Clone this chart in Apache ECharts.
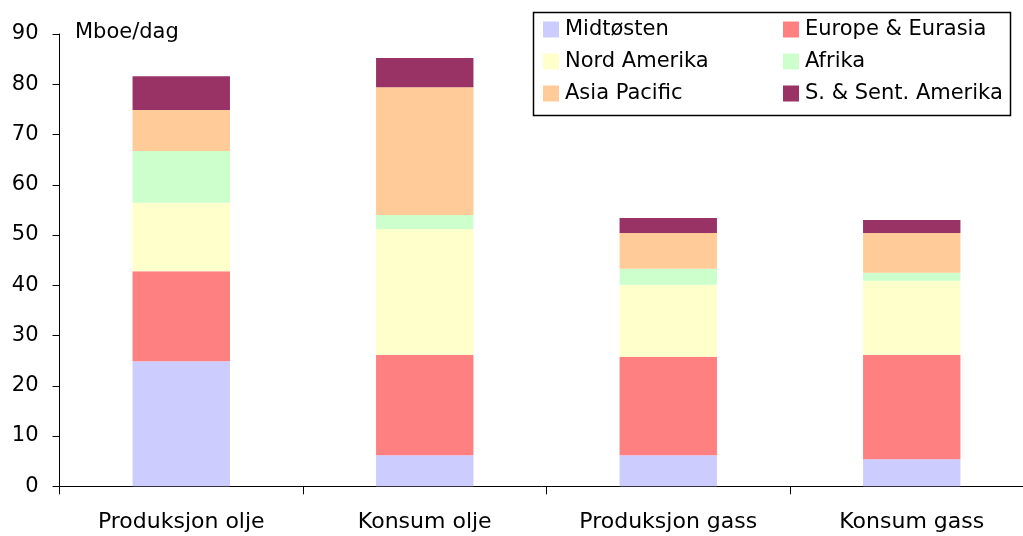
<!DOCTYPE html>
<html>
<head>
<meta charset="utf-8">
<script src="https://cdn.jsdelivr.net/npm/echarts@6/dist/echarts.min.js"></script>
<style>
  html, body { margin: 0; padding: 0; background: #fff; }
  #chart { width: 1023px; height: 536px; }
</style>
</head>
<body>
<div id="chart"></div>
<script>
// Categories on the x axis
const categories = ['Produksjon olje', 'Konsum olje', 'Produksjon gass', 'Konsum gass'];

// Regional contributions, Mboe/dag, in stacking order (bottom to top)
const midtosten    = [24.9, 6.2, 6.2, 5.4];
const europe       = [17.9, 20.0, 19.6, 20.8];
const nordAmerika  = [13.6, 25.0, 14.3, 14.7];
const afrika       = [10.3, 2.8, 3.2, 1.6];
const asiaPacific  = [8.2, 25.4, 7.1, 7.9];
const sorAmerika   = [6.7, 5.8, 3.0, 2.6];

const seriesNames  = ['Midtøsten', 'Europe & Eurasia', 'Nord Amerika', 'Afrika', 'Asia Pacific', 'S. & Sent. Amerika'];
const seriesData   = [midtosten, europe, nordAmerika, afrika, asiaPacific, sorAmerika];
const seriesColors = ['#CCCCFF', '#FF8080', '#FFFFCC', '#CCFFCC', '#FFCC99', '#993366'];

const yTicks = { min: 0, max: 90, interval: 10 };
const unitLabel = 'Mboe/dag';

const FONT = '"DejaVu Sans", Arial, sans-serif';

const chart = echarts.init(document.getElementById('chart'), null, { renderer: 'canvas' });

const legendCommon = {
  orient: 'vertical',
  top: 19,
  padding: 0,
  itemWidth: 16,
  itemHeight: 16,
  itemGap: 11,
  icon: 'rect',
  selectedMode: false,
  textStyle: { fontFamily: FONT, fontSize: 21, color: '#000', padding: [0, 0, 0, 1] }
};

chart.setOption({
  animation: false,
  backgroundColor: '#fff',
  grid: {
    left: 59.5, width: 974, top: 34, bottom: 49.7,
    containLabel: false, outerBoundsMode: 'none'
  },
  legend: [
    Object.assign({}, legendCommon, { left: 543, data: [seriesNames[0], seriesNames[2], seriesNames[4]] }),
    Object.assign({}, legendCommon, { left: 783, data: [seriesNames[1], seriesNames[3], seriesNames[5]] })
  ],
  graphic: [
    {
      type: 'rect',
      shape: { x: 533.5, y: 12.5, width: 477, height: 103 },
      style: { fill: 'none', stroke: '#000', lineWidth: 1.5 },
      z: 0
    },
    {
      type: 'text',
      left: 75,
      top: 22,
      style: { text: unitLabel, fontFamily: FONT, fontSize: 21, fill: '#000' }
    }
  ],
  xAxis: {
    type: 'category',
    data: categories,
    axisLine: { lineStyle: { color: '#000', width: 1 } },
    axisTick: { show: true, length: 8, lineStyle: { color: '#000' } },
    axisLabel: { fontFamily: FONT, fontSize: 22, color: '#000', margin: 25 }
  },
  yAxis: {
    type: 'value',
    min: yTicks.min,
    max: yTicks.max,
    interval: yTicks.interval,
    axisLine: { show: true, lineStyle: { color: '#000', width: 1 } },
    axisTick: { show: true, length: 7, lineStyle: { color: '#000' } },
    splitLine: { show: false },
    axisLabel: { fontFamily: FONT, fontSize: 21, color: '#000', margin: 21 }
  },
  series: seriesNames.map((name, i) => ({
    name: name,
    type: 'bar',
    stack: 'total',
    barWidth: '40%',
    data: seriesData[i],
    itemStyle: { color: seriesColors[i] },
    emphasis: { disabled: true }
  }))
});
</script>
</body>
</html>
